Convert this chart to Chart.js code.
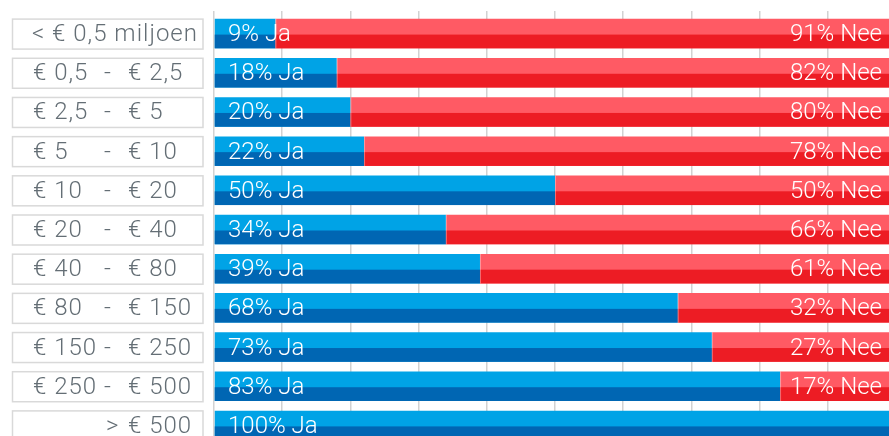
<!DOCTYPE html>
<html>
<head>
<meta charset="utf-8">
<script src="https://cdn.jsdelivr.net/npm/chart.js@4.4.1/dist/chart.umd.min.js"></script>
<style>
    html, body { margin: 0; padding: 0; background: #fff; overflow: hidden; }
    #wrap { position: relative; width: 896px; height: 445px; }
</style>
</head>
<body>
<div id="wrap"><canvas id="chart"></canvas></div>
<script>
// Omzetklassen (miljoen euro) en antwoorden in procenten
const categories = [
    '< € 0,5 miljoen',
    '€ 0,5 - € 2,5',
    '€ 2,5 - € 5',
    '€ 5 - € 10',
    '€ 10 - € 20',
    '€ 20 - € 40',
    '€ 40 - € 80',
    '€ 80 - € 150',
    '€ 150 - € 250',
    '€ 250 - € 500',
    '> € 500'
];
const jaValues = [9, 18, 20, 22, 50, 34, 39, 68, 73, 83, 100];
const neeValues = [91, 82, 80, 78, 50, 66, 61, 32, 27, 17, 0];
const xTicks = [0, 10, 20, 30, 40, 50, 60, 70, 80, 90, 100];

const FONT = '300 24px Roboto, "Open Sans", sans-serif';
const darkColors = ['#0066b3', '#ed1c24'];

// Labels in boxes left of the bars
const categoryBoxes = {
    id: 'categoryBoxes',
    afterDraw(chart) {
        const ctx = chart.ctx;
        const y = chart.scales.y;
        ctx.save();
        ctx.font = FONT;
        ctx.letterSpacing = '1px';
        ctx.fillStyle = '#646e75';
        ctx.textBaseline = 'middle';
        categories.forEach((label, i) => {
            const cy = y.getPixelForValue(i);
            ctx.strokeStyle = '#d9d9d9';
            ctx.lineWidth = 1.5;
            ctx.strokeRect(12.5, cy - 14.5, 190.5, 30);
            const ty = cy + 1.5;
            ctx.textAlign = 'left';
            let m = label.match(/^(.*?)\s+-\s+(.*)$/);
            if (m) {
                ctx.fillText(m[1], 33, ty);
                ctx.fillText('-', 104, ty);
                ctx.fillText(m[2], 128, ty);
            } else if (label.charAt(0) === '>') {
                ctx.fillText('>', 106, ty);
                ctx.fillText(label.slice(1).trim(), 128, ty);
            } else {
                ctx.fillText(label, 32, ty);
            }
        });
        ctx.restore();
    }
};

// Darker lower half of every bar plus value labels
const twoTone = {
    id: 'twoTone',
    afterDatasetsDraw(chart) {
        const ctx = chart.ctx;
        ctx.save();
        chart.data.datasets.forEach((ds, di) => {
            const meta = chart.getDatasetMeta(di);
            meta.data.forEach((bar, i) => {
                const p = bar.getProps(['x', 'y', 'base', 'height'], true);
                if (p.x === p.base) return;
                const left = Math.min(p.x, p.base);
                const w = Math.abs(p.x - p.base);
                ctx.fillStyle = darkColors[di];
                ctx.fillRect(left, p.y + 1, w, p.height / 2 - 1);
                if (di === 1) {
                    ctx.fillStyle = 'rgba(255,255,255,0.35)';
                    ctx.fillRect(left, p.y - p.height / 2, 1, p.height);
                }
            });
        });
        const area = chart.chartArea;
        const yScale = chart.scales.y;
        ctx.font = FONT;
        ctx.fillStyle = '#ffffff';
        ctx.textBaseline = 'middle';
        categories.forEach((c, i) => {
            const cy = yScale.getPixelForValue(i) + 1.5;
            ctx.textAlign = 'left';
            ctx.fillText(jaValues[i] + '% Ja', area.left + 14, cy);
            if (neeValues[i] > 0) {
                ctx.textAlign = 'right';
                ctx.fillText(neeValues[i] + '% Nee', area.right - 14, cy);
            }
        });
        ctx.restore();
    }
};

new Chart(document.getElementById('chart'), {
    type: 'bar',
    data: {
        labels: categories,
        datasets: [
            { label: 'Ja', data: jaValues, backgroundColor: '#00a3e6', barPercentage: 0.753, categoryPercentage: 1 },
            { label: 'Nee', data: neeValues, backgroundColor: '#ff5a64', barPercentage: 0.753, categoryPercentage: 1 }
        ]
    },
    options: {
        indexAxis: 'y',
        responsive: true,
        maintainAspectRatio: false,
        animation: false,
        layout: { padding: { top: 11, left: 0, right: 0, bottom: 0 } },
        plugins: { legend: { display: false }, tooltip: { enabled: false } },
        scales: {
            x: {
                position: 'top',
                stacked: true,
                min: 0,
                max: 100,
                afterBuildTicks: scale => { scale.ticks = xTicks.map(v => ({ value: v })); },
                ticks: { display: false },
                grid: { color: '#d2d2d2', lineWidth: 1.5, tickLength: 3 },
                border: { display: false }
            },
            y: {
                stacked: true,
                ticks: { display: false },
                grid: { display: false },
                border: { display: false },
                afterFit: scale => { scale.width = 214; }
            }
        }
    },
    plugins: [categoryBoxes, twoTone]
});
</script>
</body>
</html>
